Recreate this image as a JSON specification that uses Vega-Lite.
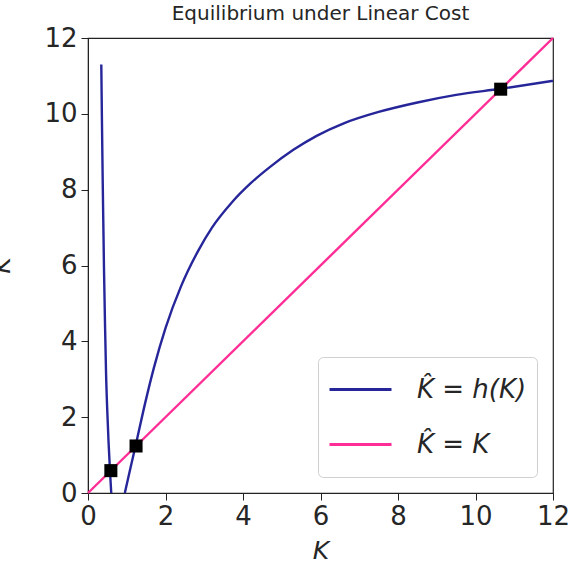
{
  "$schema": "https://vega.github.io/schema/vega-lite/v6.json",
  "width": 465,
  "height": 455,
  "autosize": "none",
  "padding": {"left": 88, "top": 38, "right": 16, "bottom": 79},
  "background": "white",
  "title": {"text": "Equilibrium under Linear Cost", "font": "DejaVu Sans", "fontSize": 20, "fontWeight": "normal", "color": "#262626", "offset": 1},
  "config": {
    "view": {"stroke": "#222", "strokeWidth": 1.2},
    "axis": {"grid": false, "domainColor": "#222", "tickColor": "#222", "tickSize": 7, "labelFlush": false, "labelFont": "DejaVu Sans", "labelFontSize": 26, "labelColor": "#262626", "titleFont": "DejaVu Sans", "titleFontSize": 25, "titleFontWeight": "normal", "titleFontStyle": "italic", "titleColor": "#262626"}
  },
  "datasets": {
    "curves": [
      {"series": "K\u0302 = h(K)", "seg": "a", "K": 0.343, "Khat": 11.3},
      {"series": "K\u0302 = h(K)", "seg": "a", "K": 0.36, "Khat": 9.8},
      {"series": "K\u0302 = h(K)", "seg": "a", "K": 0.38, "Khat": 8.2},
      {"series": "K\u0302 = h(K)", "seg": "a", "K": 0.4, "Khat": 6.8},
      {"series": "K\u0302 = h(K)", "seg": "a", "K": 0.413, "Khat": 5.9},
      {"series": "K\u0302 = h(K)", "seg": "a", "K": 0.44, "Khat": 4.4},
      {"series": "K\u0302 = h(K)", "seg": "a", "K": 0.465, "Khat": 3.2},
      {"series": "K\u0302 = h(K)", "seg": "a", "K": 0.5, "Khat": 2.1},
      {"series": "K\u0302 = h(K)", "seg": "a", "K": 0.53, "Khat": 1.35},
      {"series": "K\u0302 = h(K)", "seg": "a", "K": 0.56, "Khat": 0.75},
      {"series": "K\u0302 = h(K)", "seg": "a", "K": 0.58, "Khat": 0.35},
      {"series": "K\u0302 = h(K)", "seg": "a", "K": 0.6, "Khat": 0.0},
      {"series": "K\u0302 = h(K)", "seg": "b", "K": 0.95, "Khat": 0.0},
      {"series": "K\u0302 = h(K)", "seg": "b", "K": 1.1, "Khat": 0.68},
      {"series": "K\u0302 = h(K)", "seg": "b", "K": 1.24, "Khat": 1.3},
      {"series": "K\u0302 = h(K)", "seg": "b", "K": 1.47, "Khat": 2.35},
      {"series": "K\u0302 = h(K)", "seg": "b", "K": 1.7, "Khat": 3.3},
      {"series": "K\u0302 = h(K)", "seg": "b", "K": 2.0, "Khat": 4.35},
      {"series": "K\u0302 = h(K)", "seg": "b", "K": 2.4, "Khat": 5.45},
      {"series": "K\u0302 = h(K)", "seg": "b", "K": 2.85, "Khat": 6.4},
      {"series": "K\u0302 = h(K)", "seg": "b", "K": 3.2, "Khat": 7.0},
      {"series": "K\u0302 = h(K)", "seg": "b", "K": 3.7, "Khat": 7.65},
      {"series": "K\u0302 = h(K)", "seg": "b", "K": 4.2, "Khat": 8.17},
      {"series": "K\u0302 = h(K)", "seg": "b", "K": 4.7, "Khat": 8.6},
      {"series": "K\u0302 = h(K)", "seg": "b", "K": 5.3, "Khat": 9.05},
      {"series": "K\u0302 = h(K)", "seg": "b", "K": 5.9, "Khat": 9.42},
      {"series": "K\u0302 = h(K)", "seg": "b", "K": 6.6, "Khat": 9.75},
      {"series": "K\u0302 = h(K)", "seg": "b", "K": 7.5, "Khat": 10.05},
      {"series": "K\u0302 = h(K)", "seg": "b", "K": 8.5, "Khat": 10.3},
      {"series": "K\u0302 = h(K)", "seg": "b", "K": 9.5, "Khat": 10.5},
      {"series": "K\u0302 = h(K)", "seg": "b", "K": 10.65, "Khat": 10.66},
      {"series": "K\u0302 = h(K)", "seg": "b", "K": 12.0, "Khat": 10.87},
      {"series": "K\u0302 = K", "seg": "c", "K": 0, "Khat": 0},
      {"series": "K\u0302 = K", "seg": "c", "K": 12, "Khat": 12}
    ],
    "eq": [
      {"K": 0.59, "Khat": 0.59},
      {"K": 1.24, "Khat": 1.24},
      {"K": 10.65, "Khat": 10.65}
    ]
  },
  "layer": [
    {
      "data": {"name": "curves"},
      "mark": {"type": "line", "strokeWidth": 2.4, "interpolate": "monotone"},
      "encoding": {
        "x": {"field": "K", "type": "quantitative", "scale": {"domain": [0, 12], "nice": false}, "axis": {"values": [0, 2, 4, 6, 8, 10, 12], "title": "K", "titlePadding": 9, "labelPadding": 3}},
        "y": {"field": "Khat", "type": "quantitative", "scale": {"domain": [0, 12], "nice": false}, "axis": {"values": [0, 2, 4, 6, 8, 10, 12], "title": "K\u0302", "titleX": -74, "titleY": 227, "labelPadding": 4}},
        "color": {"field": "series", "type": "nominal", "scale": {"domain": ["K\u0302 = h(K)", "K\u0302 = K"], "range": ["#26269a", "#ff2e96"]},
          "legend": {"title": null, "orient": "none", "legendX": 230, "legendY": 319, "symbolType": "stroke", "symbolSize": 3844, "symbolStrokeWidth": 2.8, "labelFont": "DejaVu Sans", "labelFontStyle": "italic", "labelFontSize": 26, "labelColor": "#262626", "labelOffset": 24, "padding": 10, "rowPadding": 10, "clipHeight": 45, "strokeColor": "#d0d0d0", "fillColor": "white", "cornerRadius": 5}},
        "detail": {"field": "seg"},
        "order": {"field": "K", "type": "quantitative"}
      }
    },
    {
      "data": {"name": "eq"},
      "mark": {"type": "square", "filled": true, "color": "black", "size": 170, "opacity": 1},
      "encoding": {
        "x": {"field": "K", "type": "quantitative"},
        "y": {"field": "Khat", "type": "quantitative"}
      }
    }
  ]
}
